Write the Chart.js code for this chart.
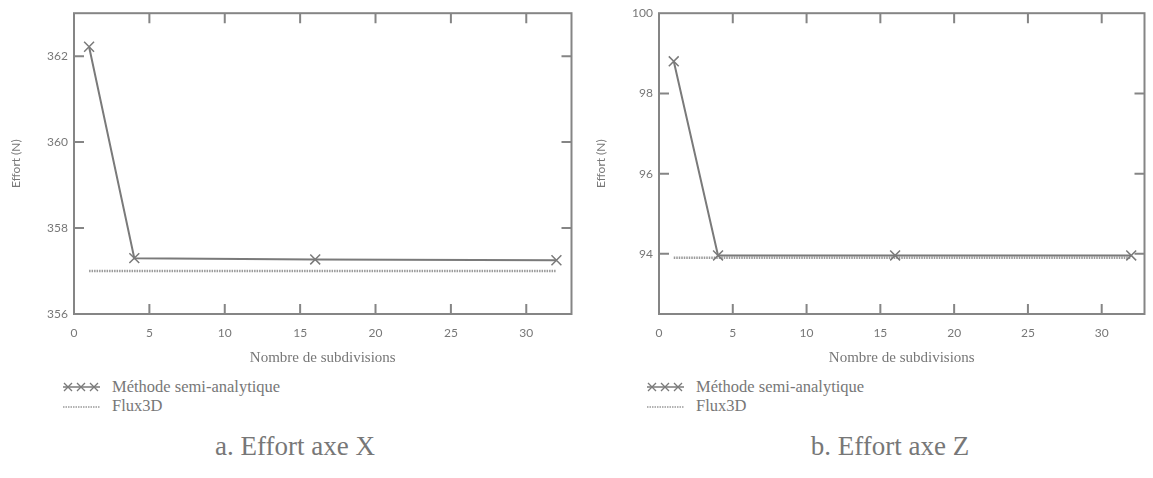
<!DOCTYPE html>
<html>
<head>
<meta charset="utf-8">
<script src="https://cdn.jsdelivr.net/npm/chart.js@4.4.1/dist/chart.umd.min.js"></script>
<style>
body { margin:0; background:#fff; width:1153px; height:478px; position:relative; overflow:hidden; font-family:"Liberation Serif", serif; color:#777; }
.box { position:absolute; top:0; height:370px; }
.legend { position:absolute; top:377px; font-size:16.5px; line-height:19px; }
.legend div { position:relative; padding-left:49px; height:19px; white-space:nowrap; }
.legend svg { position:absolute; left:0; top:3px; }
.caption { position:absolute; top:431px; font-size:27px; width:300px; text-align:center; white-space:nowrap; }
</style>
</head>
<body>
<div class="box" style="left:0;width:580px"><canvas id="chartX"></canvas></div>
<div class="box" style="left:580px;width:573px"><canvas id="chartZ"></canvas></div>

<div class="legend" style="left:63px" id="legX"></div>
<div class="legend" style="left:647px" id="legZ"></div>
<div class="caption" style="left:145px">a. Effort axe X</div>
<div class="caption" style="left:740px">b. Effort axe Z</div>

<script>
// values
const subdivisions = [1, 4, 16, 32];
const semiX = [362.22, 357.3, 357.27, 357.25];
const semiZ = [98.8, 93.96, 93.96, 93.96];
const fluxSubdiv = [1, 32];
const fluxX = [357.0, 357.0];
const fluxZ = [93.9, 93.9];
const xTicks = [0, 5, 10, 15, 20, 25, 30];
const yTicksX = [356, 358, 360, 362];
const yTicksZ = [94, 96, 98, 100];
const seriesNames = ["Méthode semi-analytique", "Flux3D"];

const grey = '#7a7a7a';

// plot frame + inward ticks on all four sides
const framePlugin = {
    id: 'frame',
    beforeDatasetsDraw(chart) {
        const ctx = chart.ctx, a = chart.chartArea, sx = chart.scales.x, sy = chart.scales.y;
        ctx.save();
        ctx.strokeStyle = '#858585';
        ctx.lineWidth = 2;
        ctx.strokeRect(a.left, a.top, a.right - a.left, a.bottom - a.top);
        ctx.beginPath();
        sx.ticks.forEach(t => {
            const p = sx.getPixelForValue(t.value);
            if (p < a.left + 3 || p > a.right - 3) return;
            ctx.moveTo(p, a.bottom); ctx.lineTo(p, a.bottom - 10);
            ctx.moveTo(p, a.top); ctx.lineTo(p, a.top + 10);
        });
        sy.ticks.forEach(t => {
            const p = sy.getPixelForValue(t.value);
            if (p < a.top + 3 || p > a.bottom - 3) return;
            ctx.moveTo(a.left, p); ctx.lineTo(a.left + 10, p);
            ctx.moveTo(a.right, p); ctx.lineTo(a.right - 10, p);
        });
        ctx.stroke();
        ctx.restore();
    }
};

function makeChart(id, semi, flux, yMin, yMax, yTicks, xMax, yWidth, padRight, titlePad) {
    const ctx = document.getElementById(id).getContext('2d');
    return new Chart(ctx, {
        type: 'scatter',
        data: {
            datasets: [{
                label: seriesNames[0],
                data: subdivisions.map((s, i) => ({x: s, y: semi[i]})),
                showLine: true,
                borderColor: grey,
                borderWidth: 2,
                pointStyle: 'crossRot',
                pointRadius: 7,
                pointBorderWidth: 1.5,
                pointBorderColor: grey
            }, {
                label: seriesNames[1],
                data: fluxSubdiv.map((s, i) => ({x: s, y: flux[i]})),
                showLine: true,
                borderColor: '#9a9a9a',
                borderWidth: 2.5,
                borderDash: [1.5, 1],
                pointRadius: 0
            }]
        },
        options: {
            responsive: true,
            maintainAspectRatio: false,
            animation: false,
            layout: {padding: {top: 12, right: padRight, left: 0, bottom: 0}},
            plugins: {legend: {display: false}, tooltip: {enabled: false}},
            scales: {
                x: {
                    type: 'linear', min: 0, max: xMax,
                    grid: {display: false, drawTicks: false},
                    border: {display: false},
                    afterBuildTicks: s => { s.ticks = xTicks.map(v => ({value: v})) },
                    afterFit: s => { s.height = 56 },
                    ticks: {padding: 12, color: '#777', font: {family: 'Lato', size: 12}, maxRotation: 0, autoSkip: false},
                    title: {display: true, text: 'Nombre de subdivisions', color: '#777',
                        font: {family: 'Liberation Serif', size: 15}, padding: {top: 0, bottom: 3}}
                },
                y: {
                    type: 'linear', min: yMin, max: yMax,
                    grid: {display: false, drawTicks: false},
                    border: {display: false},
                    afterBuildTicks: s => { s.ticks = yTicks.map(v => ({value: v})) },
                    afterFit: s => { s.width = yWidth },
                    ticks: {padding: 6, color: '#777', font: {family: 'Lato', size: 12}},
                    title: {display: true, text: 'Effort (N)', color: '#777',
                        font: {family: 'Lato', size: 12}, padding: {top: titlePad, bottom: 0}}
                }
            }
        },
        plugins: [framePlugin]
    });
}

makeChart('chartX', semiX, fluxX, 356, 363, yTicksX, 33, 74, 8, 9);
makeChart('chartZ', semiZ, fluxZ, 92.5, 100, yTicksZ, 32.9, 79, 1, 14);

// legends
function legendHtml() {
    const cross = x => `<path d="M${x-4} 3 L${x+4} 11 M${x-4} 11 L${x+4} 3"/>`;
    const semiIcon = `<svg width="37" height="14"><g stroke="${grey}" stroke-width="1.3" fill="none">
        <line x1="0" y1="7" x2="37" y2="7"/>${cross(5)}${cross(18)}${cross(31)}</g></svg>`;
    const fluxIcon = `<svg width="37" height="14"><line x1="0" y1="8" x2="37" y2="8" stroke="#9a9a9a"
        stroke-width="1.5" stroke-dasharray="1.5,1"/></svg>`;
    return `<div>${semiIcon}${seriesNames[0]}</div><div>${fluxIcon}${seriesNames[1]}</div>`;
}
document.getElementById('legX').innerHTML = legendHtml();
document.getElementById('legZ').innerHTML = legendHtml();
</script>
</body>
</html>
